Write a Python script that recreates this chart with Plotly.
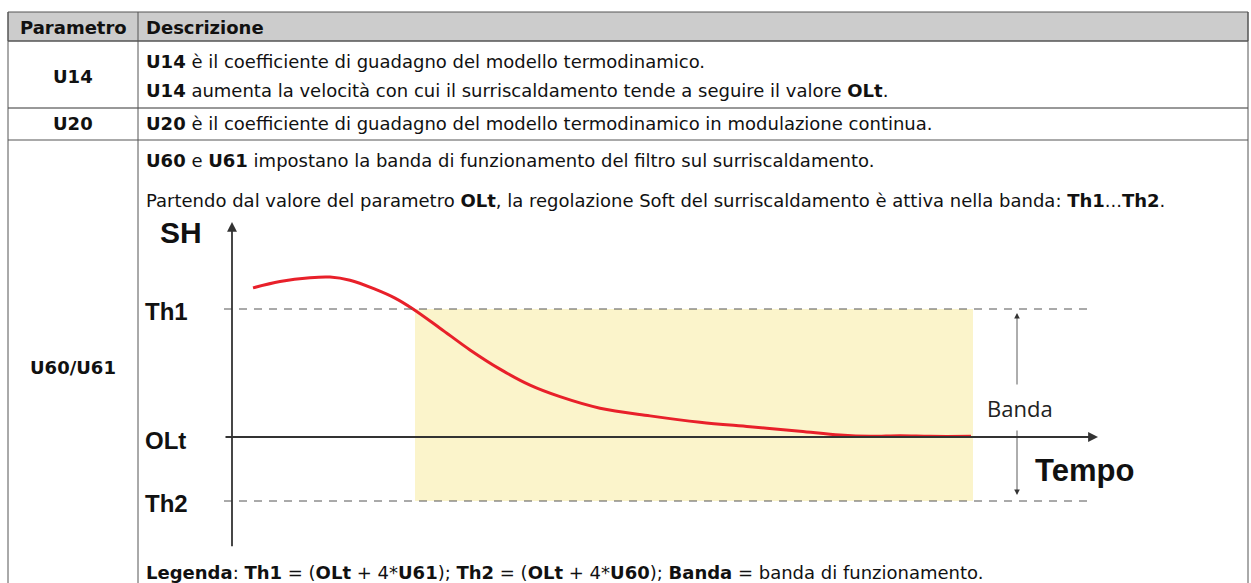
import plotly.graph_objects as go

W, H = 1251, 583

# ---- Data (time units, SH units: OLt = 0) ----
t_curve = [2.1, 4.8, 7.8, 9.8, 11.8, 14.3, 16.3, 18.1, 20.8, 23.8, 26.8, 29.8, 32.8, 36.8,
           41.8, 46.8, 51.8, 56.8, 60.8, 63.8, 66.8, 69.8, 73.9]
sh_curve = [2.33, 2.43, 2.49, 2.50, 2.45, 2.31, 2.17, 2.0, 1.70, 1.36, 1.06, 0.81, 0.63, 0.45,
            0.33, 0.23, 0.16, 0.09, 0.03, 0.01, 0.02, 0.01, 0.01]
level_names = ["Th1", "OLt", "Th2"]
level_values = [2.0, 0.0, -1.0]
band_t = [18.3, 74.1]
t_axis_end = 86.6
t_dash_end = 85.8
t_axis_start = -0.8
sh_axis_top = 3.36
sh_axis_bottom = -1.73

table_params = ["U14", "U20", "U60/U61"]
table_desc = [
    ["<b>U14</b> è il coefficiente di guadagno del modello termodinamico.",
     "<b>U14</b> aumenta la velocità con cui il surriscaldamento tende a seguire il valore <b>OLt</b>."],
    ["<b>U20</b> è il coefficiente di guadagno del modello termodinamico in modulazione continua."],
    ["<b>U60</b> e <b>U61</b> impostano la banda di funzionamento del filtro sul surriscaldamento.",
     "Partendo dal valore del parametro <b>OLt</b>, la regolazione Soft del surriscaldamento è attiva nella banda: <b>Th1</b>...<b>Th2</b>."],
]
legend_text = "<b>Legenda</b>: <b>Th1</b> = (<b>OLt</b> + 4*<b>U61</b>); <b>Th2</b> = (<b>OLt</b> + 4*<b>U60</b>); <b>Banda</b> = banda di funzionamento."

FONT = "Liberation Sans, Arial, sans-serif"
TFONT = "DejaVu Sans, sans-serif"

def px(x):
    return x / W

def py(y):
    return 1 - y / H

# axis mapping: pixel x = 232 + 10*t ; pixel y = 437 - 64*SH
x_range = [(0 - 232) / 10, (W - 232) / 10]
y_range = [(437 - H) / 64, (437 - 0) / 64]

def sh_of(ypix):
    return (437 - ypix) / 64

def t_of(xpix):
    return (xpix - 232) / 10

fig = go.Figure()

# yellow band
fig.add_shape(type="rect", xref="x", yref="y", x0=band_t[0], x1=band_t[1],
              y0=level_values[2], y1=level_values[0],
              fillcolor="#fbf4cb", line_width=0, layer="below")

# dashed threshold lines
for name, v in zip(level_names, level_values):
    if name != "OLt":
        fig.add_shape(type="line", xref="x", yref="y", x0=t_axis_start, x1=t_dash_end,
                      y0=v, y1=v, line=dict(color="#555555", width=1, dash="8px,7px"))

# curve
fig.add_trace(go.Scatter(x=t_curve, y=sh_curve, mode="lines",
                         line=dict(color="#e8202a", width=3, shape="spline", smoothing=1.0),
                         hoverinfo="skip", showlegend=False))

# horizontal axis (OLt) with arrow
fig.add_annotation(x=t_axis_end, y=0, ax=t_axis_start, ay=0, xref="x", yref="y",
                   axref="x", ayref="y", text="", showarrow=True, arrowhead=2,
                   arrowsize=1.1, arrowwidth=1.8, arrowcolor="#333333")
# vertical axis with arrow
fig.add_annotation(x=0, y=sh_axis_top, ax=0, ay=sh_axis_bottom, xref="x", yref="y",
                   axref="x", ayref="y", text="", showarrow=True, arrowhead=2,
                   arrowsize=1.1, arrowwidth=1.8, arrowcolor="#333333")

# Banda double arrow (two halves around the label)
band_x = t_of(1017)
fig.add_annotation(x=band_x, y=sh_of(313), ax=band_x, ay=sh_of(386), xref="x", yref="y",
                   axref="x", ayref="y", text="", showarrow=True, arrowhead=2,
                   arrowsize=1.4, arrowwidth=0.8, arrowcolor="#333333")
fig.add_annotation(x=band_x, y=sh_of(495), ax=band_x, ay=sh_of(429), xref="x", yref="y",
                   axref="x", ayref="y", text="", showarrow=True, arrowhead=2,
                   arrowsize=1.4, arrowwidth=0.8, arrowcolor="#333333")
fig.add_annotation(x=t_of(1020), y=sh_of(408), xref="x", yref="y", text="Banda", showarrow=False,
                   xanchor="center", yanchor="middle",
                   font=dict(family="Open Sans, sans-serif", size=22, color="#222222"))
fig.add_annotation(x=t_of(1084), y=sh_of(470), xref="x", yref="y", text="<b>Tempo</b>", showarrow=False,
                   xanchor="center", yanchor="middle",
                   font=dict(family=FONT, size=31, color="#111111"))
fig.add_annotation(x=t_of(181), y=sh_of(232), xref="x", yref="y", text="<b>SH</b>", showarrow=False,
                   xanchor="center", yanchor="middle",
                   font=dict(family=FONT, size=30, color="#111111"))
label_y = {"Th1": 311, "OLt": 440, "Th2": 503}
for name in level_names:
    fig.add_annotation(x=t_of(143), y=sh_of(label_y[name]), xref="x", yref="y", text=f"<b>{name}</b>",
                       showarrow=False, xanchor="left", yanchor="middle",
                       font=dict(family=FONT, size=24, color="#111111"))

# ---- table ----
L, C, R = 8, 138, 1248
T, HB = 12, 41
row_bottoms = [108, 140, 620]
line_col = "#555555"

fig.add_shape(type="rect", xref="paper", yref="paper", x0=px(L), x1=px(R), y0=py(HB), y1=py(T),
              fillcolor="#cccccc", line=dict(color=line_col, width=1), layer="below")
for yb in [HB] + row_bottoms[:-1]:
    fig.add_shape(type="line", xref="paper", yref="paper", x0=px(L), x1=px(R), y0=py(yb), y1=py(yb),
                  line=dict(color="#333333" if yb == 108 else line_col, width=1))
for xv in [L, C, R]:
    fig.add_shape(type="line", xref="paper", yref="paper", x0=px(xv), x1=px(xv), y0=0, y1=py(T),
                  line=dict(color=line_col, width=1))

TS = 18
def cell_text(x, y, text, anchor):
    fig.add_annotation(x=px(x), y=py(y), xref="paper", yref="paper", text=text,
                       showarrow=False, xanchor=anchor, yanchor="middle",
                       font=dict(family=TFONT, size=TS, color="#111111"))

cell_text((L + C) / 2, 27, "<b>Parametro</b>", "center")
cell_text(144, 27, "<b>Descrizione</b>", "left")

param_y = [76, 124, 367]
desc_y = [[61, 91], [124], [160, 200]]
for p, pyv, lines, ys in zip(table_params, param_y, table_desc, desc_y):
    cell_text((L + C) / 2, pyv, f"<b>{p}</b>", "center")
    for txt, yy in zip(lines, ys):
        cell_text(144, yy, txt, "left")
cell_text(144, 572, legend_text, "left")

fig.update_layout(
    width=W, height=H, margin=dict(l=0, r=0, t=0, b=0),
    paper_bgcolor="white", plot_bgcolor="white", showlegend=False,
    xaxis=dict(range=x_range, visible=False, domain=[0, 1], fixedrange=True),
    yaxis=dict(range=y_range, visible=False, domain=[0, 1], fixedrange=True),
)

fig.write_html("out.html", config={"displayModeBar": False},
               post_script="document.body.style.margin='0px';")
